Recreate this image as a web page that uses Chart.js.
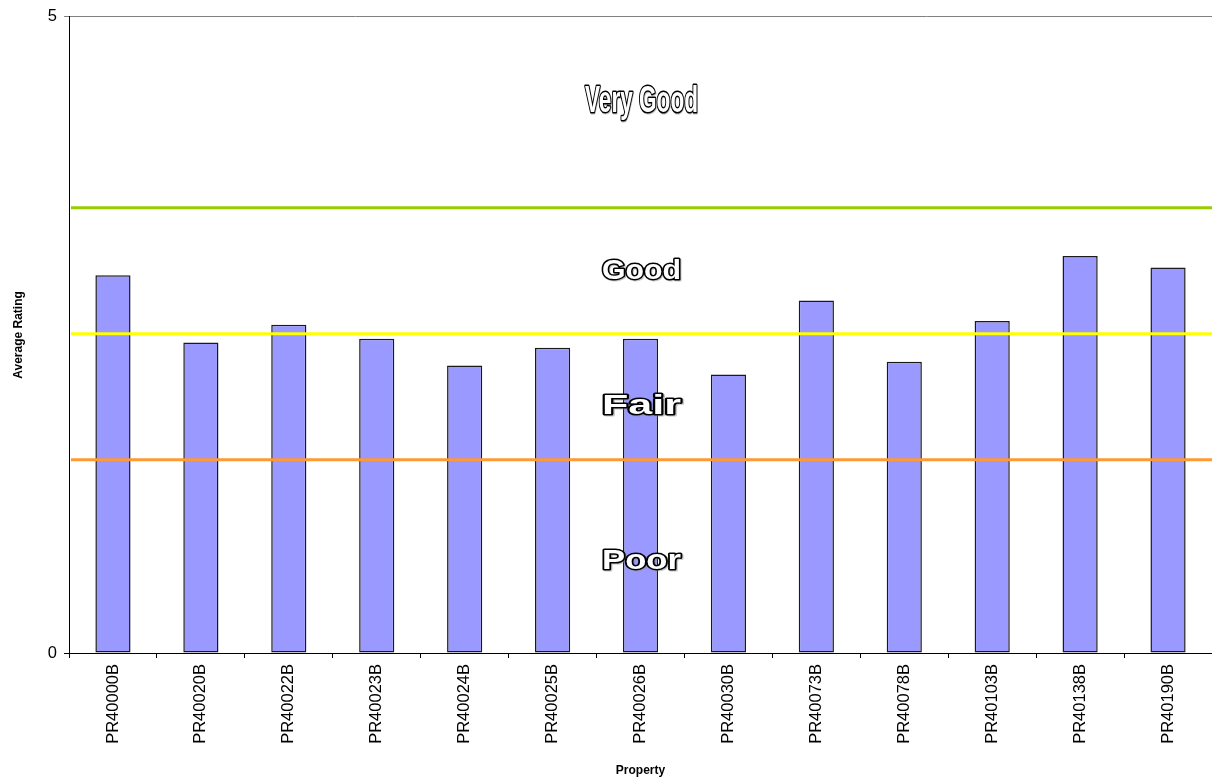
<!DOCTYPE html>
<html>
<head>
<meta charset="utf-8">
<title>Average Rating by Property</title>
<script src="https://cdn.jsdelivr.net/npm/chart.js@4/dist/chart.umd.min.js"></script>
<style>
  html, body { margin: 0; padding: 0; background: #fff; }
  #wrap { width: 1212px; height: 781px; position: relative; }
</style>
</head>
<body>
<div id="wrap"><canvas id="chart"></canvas></div>
<script>
// Properties and their average ratings
const properties = ['PR40000B', 'PR40020B', 'PR40022B', 'PR40023B', 'PR40024B', 'PR40025B', 'PR40026B',
                    'PR40030B', 'PR40073B', 'PR40078B', 'PR40103B', 'PR40138B', 'PR40190B'];
const averageRatings = [2.97, 2.44, 2.58, 2.47, 2.26, 2.40, 2.47, 2.19, 2.77, 2.29, 2.61, 3.12, 3.03];

// Rating scale
const ratingMin = 0;
const ratingMax = 5;
const yTickValues = [0, 5];

// Band boundaries (Very Good / Good, Good / Fair, Fair / Poor)
const bandThresholds = [3.5, 2.51, 1.52];
const bandNames = ['Very Good', 'Good', 'Fair', 'Poor'];

// Drawing styles for the boundaries and band names
const thresholdColors = ['#99CC00', '#FFFF00', '#FF9933'];
const bandLabelStyle = [
  { y: 4.254, size: 37, width: 115 },
  { y: 2.936, size: 28, width: 81 },
  { y: 1.876, size: 28, width: 81 },
  { y: 0.660, size: 28, width: 81 }
];

const bandPlugin = {
  id: 'ratingBands',
  afterDatasetsDraw(chart) {
    const { ctx, chartArea, scales } = chart;
    const y = scales.y;
    ctx.save();
    // boundary lines
    bandThresholds.forEach((v, i) => {
      const py = y.getPixelForValue(v);
      ctx.beginPath();
      ctx.strokeStyle = thresholdColors[i];
      ctx.lineWidth = 3;
      ctx.moveTo(chartArea.left + 2, py);
      ctx.lineTo(chartArea.right, py);
      ctx.stroke();
    });
    // outlined band names
    const cx = (chartArea.left + chartArea.right) / 2 + 1;
    bandNames.forEach((name, i) => {
      const st = bandLabelStyle[i];
      ctx.font = 'bold ' + st.size + 'px "Liberation Sans", Arial, sans-serif';
      const natural = ctx.measureText(name).width;
      const sx = (st.width - 2) / natural;
      const by = y.getPixelForValue(st.y);
      ctx.save();
      ctx.translate(cx, by);
      ctx.scale(sx, 1);
      ctx.textAlign = 'center';
      ctx.textBaseline = 'alphabetic';
      ctx.lineJoin = 'round';
      // faint shadow
      ctx.strokeStyle = 'rgba(140,140,140,0.5)';
      ctx.lineWidth = 3;
      ctx.strokeText(name, 1, 1);
      // outline
      ctx.strokeStyle = '#000';
      ctx.lineWidth = 3;
      ctx.strokeText(name, 0, 0);
      ctx.fillStyle = '#fff';
      ctx.fillText(name, 0, 0);
      ctx.restore();
    });
    ctx.restore();
  }
};

new Chart(document.getElementById('chart'), {
  type: 'bar',
  data: {
    labels: properties,
    datasets: [{
      data: averageRatings,
      backgroundColor: '#9999FF',
      borderColor: '#1a1a1a',
      borderWidth: 1.5,
      borderSkipped: false,
      barPercentage: 0.4,
      categoryPercentage: 1.0
    }]
  },
  options: {
    responsive: true,
    maintainAspectRatio: false,
    animation: false,
    devicePixelRatio: 1,
    layout: { padding: { top: 15, right: 0, left: 0, bottom: 0 } },
    plugins: {
      legend: { display: false },
      tooltip: { enabled: false }
    },
    scales: {
      x: {
        type: 'category',
        offset: true,
        afterFit(scale) { scale.height = 128; },
        border: { display: true, color: '#000', width: 1 },
        grid: {
          display: true,
          offset: true,
          drawOnChartArea: false,
          drawTicks: true,
          tickLength: 5,
          tickColor: '#000'
        },
        ticks: {
          autoSkip: false,
          maxRotation: 90,
          minRotation: 90,
          padding: 6,
          color: '#000',
          font: { family: '"Liberation Sans", Arial, sans-serif', size: 16.5 }
        },
        title: {
          display: true,
          text: 'Property',
          color: '#000',
          padding: { top: 0, bottom: 3 },
          font: { family: '"Liberation Sans", Arial, sans-serif', size: 12, weight: 'bold' }
        }
      },
      y: {
        min: ratingMin,
        max: ratingMax,
        afterFit(scale) { scale.width = 69; },
        afterBuildTicks(scale) { scale.ticks = yTickValues.map(v => ({ value: v })); },
        border: { display: true, color: '#000', width: 1 },
        grid: {
          drawTicks: true,
          tickLength: 5,
          color: ctx => (ctx.tick && ctx.tick.value === ratingMax) ? '#808080' : 'rgba(0,0,0,0)',
          tickColor: ctx => (ctx.tick && ctx.tick.value === ratingMax) ? '#808080' : '#000'
        },
        ticks: {
          padding: 7,
          color: '#000',
          font: { family: '"Liberation Sans", Arial, sans-serif', size: 16.5 }
        },
        title: {
          display: true,
          text: 'Average Rating',
          color: '#000',
          padding: { top: 11, bottom: 0 },
          font: { family: '"Liberation Sans", Arial, sans-serif', size: 12, weight: 'bold' }
        }
      }
    }
  },
  plugins: [bandPlugin]
});
</script>
</body>
</html>
